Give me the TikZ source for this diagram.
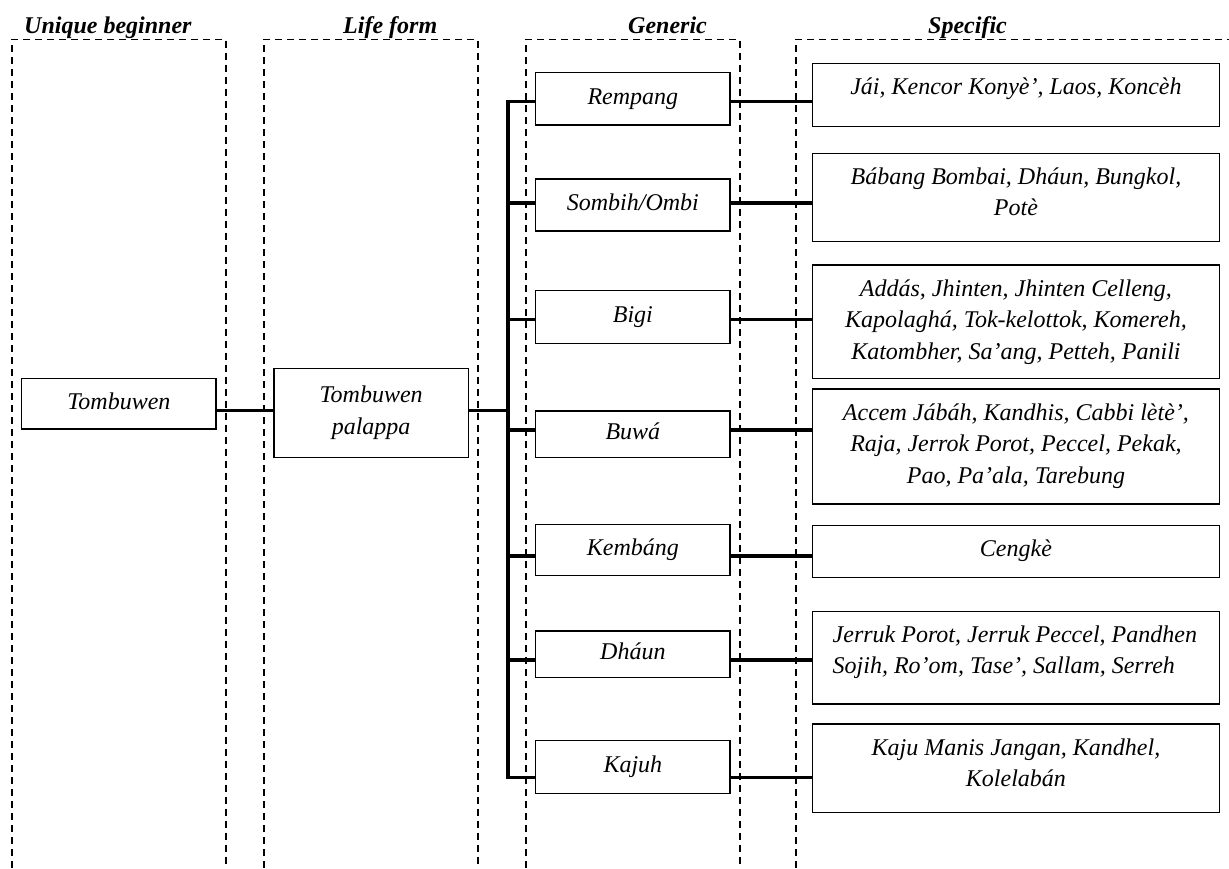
\documentclass[tikz,border=0pt]{standalone}
\usepackage{fontspec}
\setmainfont{Liberation Serif}
\newcommand\sbtext[2]{\parbox[t][#1][t]{407.5pt}{\centering\rule{0pt}{31pt}#2}}
\newcommand\sbtextl[2]{\parbox[t][#1][t]{407.5pt}{\raggedright\leftskip=20.5pt\rule{0pt}{31pt}#2}}
\begin{document}
\begin{tikzpicture}[x=1pt,y=-1pt,
  font=\fontsize{24}{31.5}\selectfont\itshape,
  col/.style={draw, line width=1.3pt, dash pattern=on 7pt off 5pt},
  head/.style={anchor=base west, inner sep=0pt, font=\fontsize{24}{28}\selectfont\bfseries\itshape},
  boxline/.style={draw, line width=1.4pt},
  gbox/.style={boxline, minimum width=194.3pt, inner sep=0pt, text height=16pt, text depth=5pt},
  sbox/.style={boxline, anchor=north west, inner sep=0pt},
  conn/.style={line width=3.2pt},
]
\useasboundingbox (0,0) rectangle (1229,868);

% column frames
\draw[col] (12,868) -- (12,39.3) -- (226,39.3) -- (226,868);
\draw[col] (264,868) -- (264,39.3) -- (478,39.3) -- (478,868);
\draw[col] (526,868) -- (526,39.3) -- (740,39.3) -- (740,868);
\draw[col] (796,868) -- (796,39.3) -- (1229,39.3);

% headers
\node[head] (h1) at (24,33) {Unique beginner};
\node[head] (h2) at (343,33) {Life form};
\node[head] (h3) at (628,33) {Generic};
\node[head] (h4) at (928,33) {Specific};

% unique beginner and life form
\node[gbox, minimum height=50.3pt] (t) at (118.85,403.85) {Tombuwen};
\node[boxline, minimum width=194.3pt, minimum height=89pt, inner sep=0pt, align=center] (p) at (371.15,412.8) {Tombuwen\\palappa};

% generic
\node[gbox, minimum height=52.3pt] (g1) at (632.85,98.85) {Rempang};
\node[gbox, minimum height=52pt]   (g2) at (632.85,205) {Sombih/Ombi};
\node[gbox, minimum height=52.6pt] (g3) at (632.85,317) {Bigi};
\node[gbox, minimum height=46.3pt] (g4) at (632.85,434.15) {Buwá};
\node[gbox, minimum height=51.4pt] (g5) at (632.85,550) {Kembáng};
\node[gbox, minimum height=46.3pt] (g6) at (632.85,654.15) {Dháun};
\node[gbox, minimum height=52.6pt] (g7) at (632.85,767) {Kajuh};

% specific
\node[sbox] (s1) at (811.5,62.7) {\sbtext{63.3pt}{Jái, Kencor Konyè’, Laos, Koncèh}};
\node[sbox] (s2) at (811.5,152.7) {\sbtext{88.3pt}{Bábang Bombai, Dháun, Bungkol,\\ Potè}};
\node[sbox] (s3) at (811.5,264.3) {\sbtext{113.7pt}{Addás, Jhinten, Jhinten Celleng,\\ Kapolaghá, Tok-kelottok, Komereh,\\ Katombher, Sa’ang, Petteh, Panili}};
\node[sbox] (s4) at (811.5,388.3) {\sbtext{115pt}{Accem Jábáh, Kandhis, Cabbi lètè’,\\ Raja, Jerrok Porot, Peccel, Pekak,\\ Pao, Pa’ala, Tarebung}};
\node[sbox] (s5) at (811.5,525) {\sbtext{51.7pt}{Cengkè}};
\node[sbox] (s6) at (811.5,610.7) {\sbtextl{92.6pt}{Jerruk Porot, Jerruk Peccel, Pandhen\\ Sojih, Ro’om, Tase’, Sallam, Serreh}};
\node[sbox] (s7) at (811.5,723.3) {\sbtext{88.7pt}{Kaju Manis Jangan, Kandhel,\\ Kolelabán}};

% bus coordinates
\coordinate (b1) at (508,101.7);
\coordinate (b2) at (508,203);
\coordinate (b3) at (508,319.3);
\coordinate (b4) at (508,430);
\coordinate (b5) at (508,556);
\coordinate (b6) at (508,660);
\coordinate (b7) at (508,777.3);
\coordinate (bm) at (508,410.7);

% connectors
\draw[conn] (bm -| t.east) -- (bm -| p.west);
\draw[conn] (bm -| p.east) -- (bm);
\draw[conn] (b1 -| g1.west) -- (b1) -- (b7) -- (b7 -| g7.west);
\foreach \i in {2,...,6} {\draw[conn] (b\i) -- (b\i -| g\i.west);}
\foreach \i in {1,...,7} {\draw[conn] (b\i -| g\i.east) -- (b\i -| s\i.west);}
\end{tikzpicture}
\end{document}
